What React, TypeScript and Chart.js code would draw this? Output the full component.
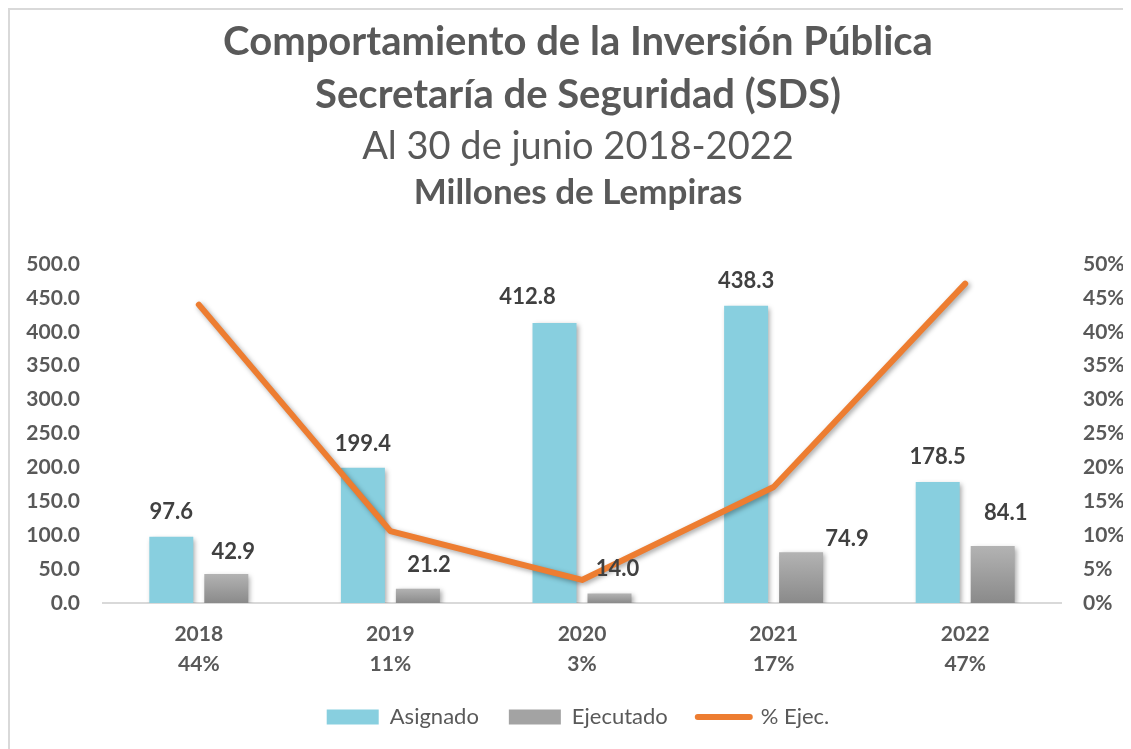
import React, { useEffect, useRef } from "react";
import { Chart, registerables } from "chart.js";

Chart.register(...registerables);

const years = ["2018", "2019", "2020", "2021", "2022"];
const pctLabels = ["44%", "11%", "3%", "17%", "47%"];
const asignado = [97.6, 199.4, 412.8, 438.3, 178.5];
const ejecutado = [42.9, 21.2, 14.0, 74.9, 84.1];
const pctEjec = [0.44, 0.106, 0.034, 0.171, 0.471];

const titleLines = [
  "Comportamiento de la Inversión Pública",
  "Secretaría de Seguridad (SDS)",
  "Al 30 de junio 2018-2022",
  "Millones de Lempiras",
];

// label placement (offset from bar top-centre), styling only
const offA = [[0, -25], [0, -24], [-27, -26], [0, -25], [0, -25]];
const offE = [[7, -22], [11, -24], [8, -25], [46, -13], [13, -33]];

const FONT = "Lato, 'Open Sans', sans-serif";
const GRAY = "#595959";

const titlePlugin = {
  id: "customTitle",
  afterDraw(chart: any) {
    const ctx = chart.ctx;
    const cx = chart.width / 2;
    const specs = [
      { t: titleLines[0], f: `bold 40px ${FONT}`, y: 32 },
      { t: titleLines[1], f: `bold 40px ${FONT}`, y: 85 },
      { t: titleLines[2], f: `normal 38px ${FONT}`, y: 137 },
      { t: titleLines[3], f: `bold 35px ${FONT}`, y: 183 },
    ];
    ctx.save();
    ctx.fillStyle = GRAY;
    ctx.textAlign = "center";
    ctx.textBaseline = "middle";
    specs.forEach((s) => {
      ctx.font = s.f;
      ctx.fillText(s.t, cx, s.y);
    });
    ctx.restore();
  },
};

const shadowPlugin = {
  id: "shadow",
  beforeDatasetDraw(chart: any) {
    const ctx = chart.ctx;
    ctx.save();
    ctx.shadowColor = "rgba(0,0,0,0.35)";
    ctx.shadowBlur = 5;
    ctx.shadowOffsetX = 2;
    ctx.shadowOffsetY = 2;
  },
  afterDatasetDraw(chart: any) {
    chart.ctx.restore();
  },
};

const labelPlugin = {
  id: "barLabels",
  afterDatasetsDraw(chart: any) {
    const ctx = chart.ctx;
    ctx.save();
    ctx.font = `bold 22px ${FONT}`;
    ctx.fillStyle = "#404040";
    ctx.textAlign = "center";
    ctx.textBaseline = "middle";
    [0, 1].forEach((di) => {
      const meta = chart.getDatasetMeta(di);
      const vals = di === 0 ? asignado : ejecutado;
      const offs = di === 0 ? offA : offE;
      meta.data.forEach((el: any, i: number) => {
        ctx.fillText(vals[i].toFixed(1), el.x + offs[i][0], el.y + offs[i][1]);
      });
    });
    ctx.restore();
  },
};

export default function App() {
  const ref = useRef<HTMLCanvasElement | null>(null);

  useEffect(() => {
    document.body.style.overflow = "hidden";
    const canvas = ref.current;
    if (!canvas) return;
    const chart = new Chart(canvas, {
      type: "bar",
      data: {
        labels: years.map((y, i) => [y, pctLabels[i]]),
        datasets: [
          {
            label: "Asignado",
            data: asignado,
            backgroundColor: "#88CFDF",
            yAxisID: "y",
            order: 1,
            categoryPercentage: 0.574,
            barPercentage: 0.8,
          },
          {
            label: "Ejecutado",
            data: ejecutado,
            backgroundColor: (c: any) => {
              const ch = c.chart;
              const area = ch.chartArea;
              if (!area || c.type !== "data") return "#a3a3a3";
              const y = ch.scales.y.getPixelForValue(ejecutado[c.dataIndex]);
              const g = ch.ctx.createLinearGradient(0, y, 0, area.bottom);
              g.addColorStop(0, "#b3b3b3");
              g.addColorStop(1, "#8a8a8a");
              return g;
            },
            yAxisID: "y",
            order: 1,
            categoryPercentage: 0.574,
            barPercentage: 0.8,
          },
          {
            type: "line",
            label: "% Ejec.",
            data: pctEjec,
            yAxisID: "y1",
            borderColor: "#ED7D31",
            backgroundColor: "#ED7D31",
            borderWidth: 6,
            pointRadius: 0,
            pointHoverRadius: 0,
            tension: 0,
            borderCapStyle: "round",
            borderJoinStyle: "round",
            order: 0,
          } as any,
        ],
      },
      options: {
        responsive: false,
        animation: false,
        layout: { padding: { top: 254, bottom: 13, left: 0, right: 0 } },
        plugins: {
          title: { display: false },
          tooltip: { enabled: false },
          legend: {
            position: "bottom",
            labels: {
              usePointStyle: true,
              pointStyleWidth: 52,
              boxHeight: 15,
              padding: 30,
              color: GRAY,
              font: { family: FONT, size: 22 },
              sort: (a: any, b: any) => a.datasetIndex - b.datasetIndex,
              generateLabels: (ch: any) => {
                const items = (Chart.defaults.plugins.legend.labels as any).generateLabels(ch);
                items.forEach((it: any) => {
                  if (it.datasetIndex === 2) {
                    it.pointStyle = "line";
                    it.lineWidth = 6;
                    it.strokeStyle = "#ED7D31";
                    it.lineCap = "round";
                  } else {
                    it.pointStyle = "rect";
                    it.lineWidth = 0;
                    it.fillStyle = it.datasetIndex === 0 ? "#88CFDF" : "#a3a3a3";
                  }
                });
                return items;
              },
            },
          },
        },
        scales: {
          x: {
            grid: { display: false, drawTicks: false },
            border: { display: true, color: "#d9d9d9", width: 2 },
            ticks: {
              color: GRAY,
              padding: 17,
              font: { family: FONT, size: 21, weight: "bold", lineHeight: 1.4 },
            },
            afterFit: (s: any) => {
              s.height = 73;
            },
          },
          y: {
            position: "left",
            min: 0,
            max: 500,
            grid: { display: false, drawTicks: false },
            border: { display: false },
            ticks: {
              stepSize: 50,
              color: GRAY,
              padding: 23,
              font: { family: FONT, size: 21, weight: "bold" },
              callback: (v: any) => Number(v).toFixed(1),
            },
            afterFit: (s: any) => {
              s.width = 93;
            },
          },
          y1: {
            position: "right",
            min: 0,
            max: 0.5,
            grid: { display: false, drawTicks: false },
            border: { display: false },
            ticks: {
              stepSize: 0.05,
              color: GRAY,
              padding: 22,
              font: { family: FONT, size: 21, weight: "bold" },
              callback: (v: any) => Math.round(Number(v) * 100) + "%",
            },
            afterFit: (s: any) => {
              s.width = 85;
            },
          },
        },
      } as any,
      plugins: [titlePlugin, shadowPlugin, labelPlugin],
    });
    return () => chart.destroy();
  }, []);

  return (
    <div
      style={{
        width: 1136,
        height: 745,
        border: "2px solid #d9d9d9",
        background: "#fff",
      }}
    >
      <canvas ref={ref} width={1136} height={741} style={{ display: "block" }} />
    </div>
  );
}
